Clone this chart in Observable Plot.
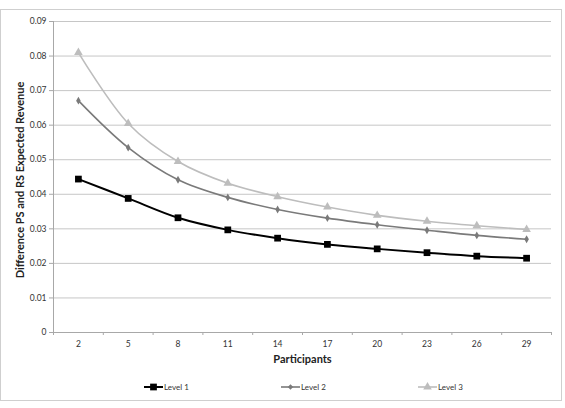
<!DOCTYPE html>
<html><head><meta charset="utf-8">
<script src="https://cdn.jsdelivr.net/npm/d3@7"></script>
<script src="https://cdn.jsdelivr.net/npm/@observablehq/plot@0.6"></script>
<style>
body{margin:0;background:#fff;font-family:Lato,"Open Sans",sans-serif;}
#wrap{position:relative;width:565px;height:408px;overflow:hidden}
#border{position:absolute;left:0;top:9px;width:562px;height:392px;border:1px solid #cfcfcf;pointer-events:none;box-sizing:border-box}
.item{position:absolute;top:381px;height:12px;display:flex;align-items:center;font-size:8px;color:#333;font-family:Lato,"Open Sans",sans-serif}
.item svg{display:block;margin-right:1px}
</style></head>
<body>
<div id="wrap"><div id="border"></div></div>
<script>
const participants = [2, 5, 8, 11, 14, 17, 20, 23, 26, 29];
const level1 = [0.0444, 0.0388, 0.0332, 0.0297, 0.0273, 0.0255, 0.0242, 0.0231, 0.0221, 0.0215];
const level2 = [0.0671, 0.0535, 0.0442, 0.0391, 0.0356, 0.0331, 0.0312, 0.0296, 0.0281, 0.0270];
const level3 = [0.0810, 0.0605, 0.0495, 0.0432, 0.0393, 0.0363, 0.0339, 0.0322, 0.0309, 0.0298];
const seriesNames = ["Level 1", "Level 2", "Level 3"];
const yTicks = [0, 0.01, 0.02, 0.03, 0.04, 0.05, 0.06, 0.07, 0.08, 0.09];
const xTitle = "Participants";
const yTitle = "Difference PS and RS Expected Revenue";

const colors = ["#000000", "#7a7a7a", "#bdbdbd"];
const symbols = ["square", "diamond", "triangle"];
const radii = [3.8, 2.4, 3.2];
const widths = [2, 1.6, 1.6];
const values = [level1, level2, level3];

const data = seriesNames.flatMap((s, i) => participants.map((p, j) => ({series: s, idx: i, p, v: values[i][j]})));
const step = participants[1] - participants[0];
const boundaries = participants.map(p => p - step / 2).concat([participants[participants.length - 1] + step / 2]);

const lineMarks = [];
seriesNames.forEach((s, i) => {
  const d = data.filter(r => r.idx === i);
  lineMarks.push(Plot.line(d, {x: "p", y: "v", stroke: colors[i], strokeWidth: widths[i], curve: "catmull-rom"}));
  lineMarks.push(Plot.dot(d, {x: "p", y: "v", fill: colors[i], stroke: "none", symbol: symbols[i], r: radii[i]}));
});

const chart = Plot.plot({
  width: 565, height: 408,
  marginLeft: 53, marginRight: 14, marginTop: 21, marginBottom: 76,
  style: {fontFamily: 'Lato, "Open Sans", sans-serif', fontSize: "8.5px", color: "#333", background: "transparent"},
  x: {type: "linear", domain: [boundaries[0], boundaries[boundaries.length - 1]]},
  y: {domain: [0, 0.09]},
  marks: [
    Plot.gridY(yTicks, {stroke: "#c6c6c6", strokeOpacity: 1}),
    Plot.ruleX([boundaries[0]], {stroke: "#a8a8a8"}),
    Plot.ruleY([0], {stroke: "#a8a8a8"}),
    Plot.axisY(yTicks, {tickSize: 4, tickPadding: 3, stroke: "#a8a8a8", fill: "#333", tickFormat: d => d === 0 ? "0" : d.toFixed(2), label: null}),
    Plot.axisX(participants, {tickSize: 0, tickPadding: 8, fill: "#333", label: null}),
    Plot.axisX(boundaries, {tickSize: 3, stroke: "#a8a8a8", tickFormat: () => "", label: null}),
    Plot.text([yTitle], {frameAnchor: "left", textAnchor: "middle", rotate: -90, dx: -33, dy: 3, fontWeight: "bold", fontSize: 11, fill: "#222"}),
    Plot.text([xTitle], {frameAnchor: "bottom", textAnchor: "middle", dy: 30, fontWeight: "bold", fontSize: 11, fill: "#222"}),
    ...lineMarks
  ]
});
document.getElementById("wrap").prepend(chart);

// legend
const legendX = [144, 281, 418];
seriesNames.forEach((s, i) => {
  const div = document.createElement("div");
  div.className = "item";
  div.style.left = legendX[i] + "px";
  const svg = d3.create("svg").attr("width", 19).attr("height", 10);
  svg.append("line").attr("x1", 0).attr("x2", 19).attr("y1", 5).attr("y2", 5).attr("stroke", colors[i]).attr("stroke-width", widths[i]);
  const sym = {square: d3.symbolSquare, diamond: d3.symbolDiamond2, triangle: d3.symbolTriangle}[symbols[i]];
  svg.append("path").attr("transform", "translate(9.5,5)").attr("fill", colors[i]).attr("d", d3.symbol(sym, Math.PI * radii[i] * radii[i])());
  div.appendChild(svg.node());
  const span = document.createElement("span");
  span.textContent = s;
  div.appendChild(span);
  document.getElementById("wrap").appendChild(div);
});
</script>
</body></html>
